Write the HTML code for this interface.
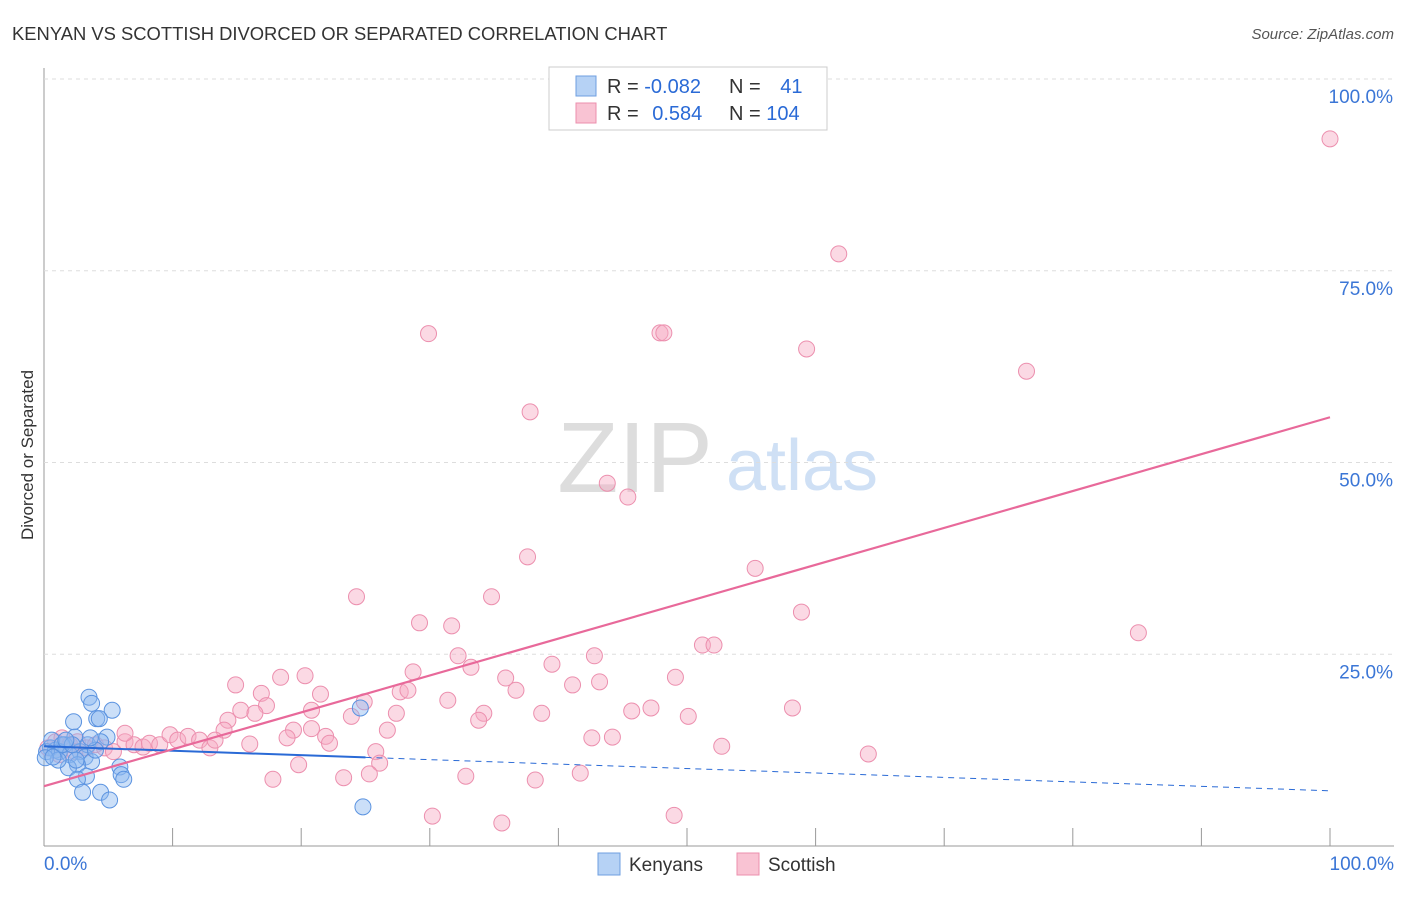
<!DOCTYPE html>
<html><head><meta charset="utf-8"><style>
body{margin:0;background:#fff;font-family:"Liberation Sans",sans-serif}
svg text{font-family:"Liberation Sans",sans-serif}
</style></head><body>
<svg id="c" width="1406" height="892">
<text x="12" y="40" font-size="18.4" fill="#333">KENYAN VS SCOTTISH DIVORCED OR SEPARATED CORRELATION CHART</text>
<text x="1394" y="39" font-size="15" fill="#555" font-style="italic" text-anchor="end">Source: ZipAtlas.com</text>
<text transform="translate(33,455) rotate(-90)" font-size="17" fill="#333" text-anchor="middle">Divorced or Separated</text>
<g><text x="635" y="492" font-size="100" fill="#ddd" font-family="Liberation Serif" text-anchor="middle">ZIP</text><text x="802" y="490" font-size="72" fill="#cfe0f5" text-anchor="middle">atlas</text></g>
<g id="grid"></g><g id="pts"></g><g id="lines"></g>
<g>
<rect x="549" y="67" width="278" height="63" fill="#fff" stroke="#ccc"/>
<rect x="576" y="76" width="20" height="20" fill="#b6d2f5" stroke="#6f9fe0"/>
<rect x="576" y="103" width="20" height="20" fill="#f9c3d3" stroke="#ec8fae"/>
<text x="607" y="93" font-size="20" fill="#333">R = <tspan fill="#2a6ad6">-0.082</tspan></text>
<text x="729" y="93" font-size="20" fill="#333">N = <tspan fill="#2a6ad6" dx="14">41</tspan></text>
<text x="607" y="120" font-size="20" fill="#333">R = <tspan fill="#2a6ad6" dx="8">0.584</tspan></text>
<text x="729" y="120" font-size="20" fill="#333">N = <tspan fill="#2a6ad6">104</tspan></text>
</g>
<g>
<rect x="598" y="853" width="22" height="22" fill="#b6d2f5" stroke="#6f9fe0"/>
<text x="629" y="871" font-size="19" fill="#333">Kenyans</text>
<rect x="737" y="853" width="22" height="22" fill="#f9c3d3" stroke="#ec8fae"/>
<text x="768" y="871" font-size="19" fill="#333">Scottish</text>
</g>
</svg>
<script>
const xTicks=[0,10,20,30,40,50,60,70,80,90,100];
const yTicks=[25,50,75,100];
const kenX=[3.5,3.7,5.3,4.1,4.3,2.3,4.9,2.4,1.6,0.5,0.9,1.2,2.8,3.4,2.0,3.2,3.7,2.6,1.9,5.9,6.0,6.2,3.3,2.6,3.0,4.4,5.1,24.8,24.6,0.2,0.6,1.1,1.4,0.1,2.2,4.4,4.0,1.7,0.7,2.5,3.6];
const kenY=[19.4,18.6,17.7,16.6,16.6,16.2,14.2,14.2,13.2,12.8,12.5,12.3,12.3,13.2,11.9,11.6,11.0,10.6,10.2,10.3,9.3,8.7,9.1,8.7,7.0,7.0,6.0,5.1,18.0,12.3,13.8,11.2,13.2,11.5,13.2,13.6,12.5,13.8,11.6,11.2,14.1];
const scoX=[100,61.8,29.9,47.9,48.2,59.3,76.4,37.8,43.8,45.4,37.6,55.3,24.3,34.8,58.9,85.1,29.2,31.7,51.2,52.1,32.2,42.8,33.2,39.5,28.7,18.4,20.3,35.9,49.1,14.9,41.1,43.2,16.9,21.5,27.7,28.3,36.7,31.4,24.9,17.3,15.3,16.4,20.8,27.4,34.2,38.7,45.7,47.2,58.2,23.9,33.8,50.1,14.3,19.4,20.8,14.0,26.7,18.9,21.9,42.6,44.2,22.2,16.0,52.7,25.8,64.1,26.1,19.8,25.3,23.3,32.8,41.7,17.8,38.2,30.2,35.6,49.0,0.3,0.9,1.4,2.0,2.6,3.3,4.0,4.7,5.4,6.3,7.0,7.7,8.2,9.0,9.8,10.4,11.2,12.1,12.9,13.3,6.3,1.2,2.4];
const scoY=[92.2,77.2,66.8,66.9,66.9,64.8,61.9,56.6,47.3,45.5,37.7,36.2,32.5,32.5,30.5,27.8,29.1,28.7,26.2,26.2,24.8,24.8,23.3,23.7,22.7,22.0,22.2,21.9,22.0,21.0,21.0,21.4,19.9,19.8,20.1,20.3,20.3,19.0,18.8,18.3,17.7,17.3,17.7,17.3,17.3,17.3,17.6,18.0,18.0,16.9,16.4,16.9,16.4,15.1,15.3,15.1,15.1,14.1,14.3,14.1,14.2,13.4,13.3,13.0,12.3,12.0,10.8,10.6,9.4,8.9,9.1,9.5,8.7,8.6,3.9,3.0,4.0,12.8,13.6,14.1,13.2,13.6,12.8,13.2,12.8,12.3,13.6,13.2,12.9,13.4,13.2,14.5,13.8,14.3,13.8,12.8,13.8,14.7,11.9,12.3];
const kenFit=[13.0,7.2];
const scoFit=[7.8,55.9];
const X=v=>44+v*12.86, Y=v=>846-v*7.67;
const NS='http://www.w3.org/2000/svg';
function mk(p,t,a){const e=document.createElementNS(NS,t);for(const k in a)e.setAttribute(k,a[k]);p.appendChild(e);return e;}
const g=document.getElementById('grid');
const ax=mk(g,'line',{x1:44,y1:68,x2:44,y2:846,stroke:'#999'});


const bx=mk(g,'line',{x1:44,y1:846,x2:1394,y2:846,stroke:'#999'});


xTicks.forEach(t=>{const l=mk(g,'line',{x1:X(t),y1:828,x2:X(t),y2:846,stroke:'#999'});

});
yTicks.forEach(t=>{const l=mk(g,'line',{x1:44,y1:Y(t),x2:1394,y2:Y(t),stroke:'#ddd','stroke-dasharray':'4,4'});


const tx=mk(g,'text',{x:1393,y:Y(t)+24,'font-size':19,fill:'#3b76d6','text-anchor':'end'});tx.textContent=t.toFixed(1)+'%';

});
[[0,'start',44],[100,'end',1394]].forEach(([v,a,x])=>{const tx=mk(g,'text',{x:x,y:870,'font-size':19,fill:'#3b76d6','text-anchor':a});tx.textContent=v.toFixed(1)+'%';

});
const p=document.getElementById('pts');
scoX.forEach((v,i)=>{const c=mk(p,'circle',{cx:X(v),cy:Y(scoY[i]),r:8,fill:'rgba(246,170,195,0.45)',stroke:'#ec8fae','stroke-width':1});

});
kenX.forEach((v,i)=>{const c=mk(p,'circle',{cx:X(v),cy:Y(kenY[i]),r:8,fill:'rgba(140,185,240,0.45)',stroke:'#5b93e0','stroke-width':1});

});
const L=document.getElementById('lines');
const kf=v=>kenFit[0]+(kenFit[1]-kenFit[0])*v/100;
let l1=mk(L,'line',{x1:X(0),y1:Y(kf(0)),x2:X(25),y2:Y(kf(25)),stroke:'#2a6ad6','stroke-width':2});


let l2=mk(L,'line',{x1:X(25),y1:Y(kf(25)),x2:X(100),y2:Y(kf(100)),stroke:'#2a6ad6','stroke-width':1,'stroke-dasharray':'6,5'});


let l3=mk(L,'line',{x1:X(0),y1:Y(scoFit[0]),x2:X(100),y2:Y(scoFit[1]),stroke:'#e8699a','stroke-width':2.2});


</script>
</body></html>
